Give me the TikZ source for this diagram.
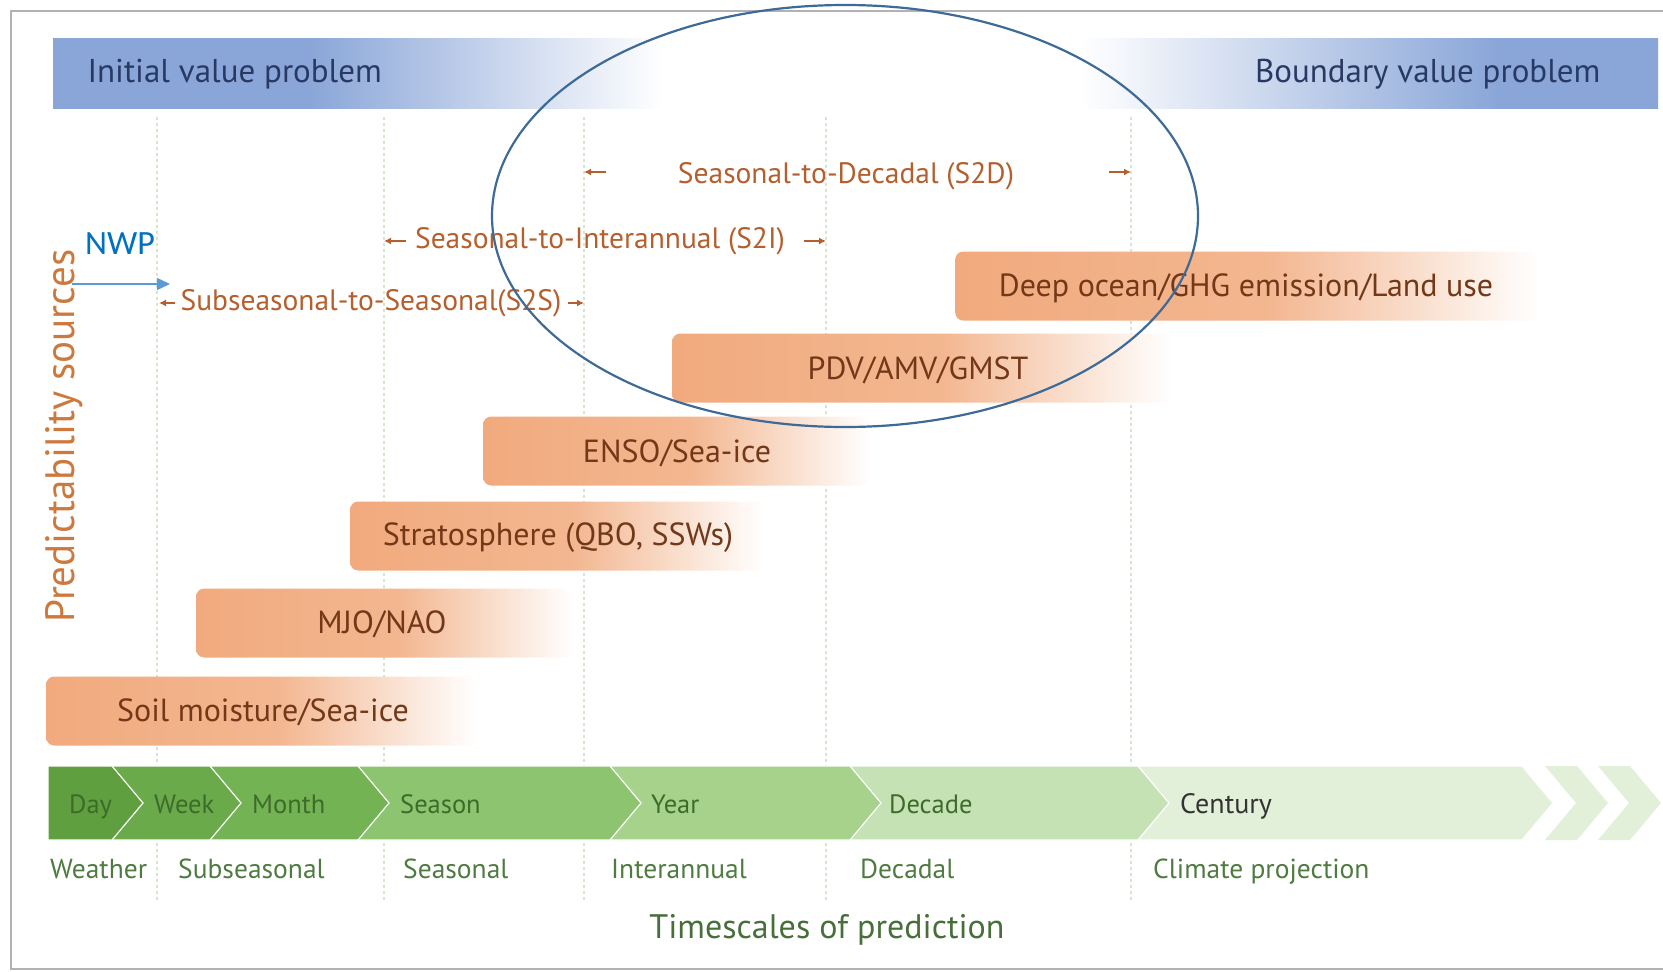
\documentclass[tikz,border=0pt]{standalone}
\usepackage{fontspec}
\setmainfont{PT Sans}
\newfontfamily\nwpfont{Carlito}
\usetikzlibrary{arrows.meta}

\definecolor{probblue}{RGB}{138,166,216}
\definecolor{probtext}{RGB}{40,58,100}
\definecolor{barorange}{RGB}{241,170,125}
\definecolor{bartext}{RGB}{115,56,24}
\definecolor{spantext}{RGB}{180,95,45}
\definecolor{srcorange}{RGB}{205,120,60}
\definecolor{nwpblue}{RGB}{0,112,192}
\definecolor{nwparrow}{RGB}{91,155,213}
\definecolor{ringblue}{RGB}{61,106,150}
\definecolor{gridgreen}{RGB}{210,232,200}
\definecolor{bandtext}{RGB}{61,107,42}
\definecolor{scaletext}{RGB}{78,123,64}
\definecolor{dayg}{RGB}{95,159,63}
\definecolor{weekg}{RGB}{106,170,74}
\definecolor{monthg}{RGB}{116,179,83}
\definecolor{seasong}{RGB}{141,196,111}
\definecolor{yearg}{RGB}{166,210,140}
\definecolor{decadeg}{RGB}{197,226,181}
\definecolor{centuryg}{RGB}{226,240,217}

\pgfdeclarehorizontalshading{barfade}{100bp}{color(0bp)=(barorange); color(25bp)=(barorange);
  color(52bp)=(barorange!85!white); color(75bp)=(white); color(100bp)=(white)}
\pgfdeclarehorizontalshading{probfade}{100bp}{color(0bp)=(probblue); color(33bp)=(probblue);
  color(44bp)=(white); color(57bp)=(white); color(70bp)=(probblue); color(100bp)=(probblue)}

\begin{document}
\begin{tikzpicture}[x=1pt,y=-1pt,
  probtxt/.style={text=probtext,font=\fontsize{33}{33}\selectfont},
  spantxt/.style={text=spantext,font=\fontsize{29.5}{29.5}\selectfont},
  spanarrow/.style={spantext,line width=1.5pt,-{Latex[length=7pt,width=7pt]}},
  srcbar/.style={shade,shading=barfade,rounded corners=8pt,minimum height=69pt,anchor=west,inner sep=0pt},
  srctxt/.style={text=bartext,font=\fontsize{32}{32}\selectfont},
  bandtxt/.style={text=bandtext,anchor=base west,inner sep=0pt,font=\fontsize{26.5}{26.5}\selectfont},
  scaletxt/.style={text=scaletext,anchor=base west,inner sep=0pt,font=\fontsize{27.5}{27.5}\selectfont},
  gridline/.style={gridgreen,line width=1.2pt,dash pattern=on 3pt off 3pt}]
\useasboundingbox (0,0) rectangle (1663,972);
\draw[gray!60,line width=2pt] (11,11) rectangle (1720,969);

\foreach \x in {157,384,584,826,1131}
  \draw[gridline] (\x,117) -- (\x,902);

\shade[shading=probfade] (53,38) rectangle (1658,108);
\node[probtxt,anchor=west] (ivp) at (84,74) {Initial value problem};
\node[probtxt,anchor=east] (bvp) at (1604,74) {Boundary value problem};

\node[spantxt] (s2d) at (846,176) {Seasonal-to-Decadal (S2D)};
\node[spantxt] (s2i) at (600,241) {Seasonal-to-Interannual (S2I)};
\node[spantxt] (s2s) at (371,303) {Subseasonal-to-Seasonal(S2S)};
\coordinate (s2dl) at (584,172); \coordinate (s2dr) at (1131,172);
\coordinate (s2il) at (384,241); \coordinate (s2ir) at (826,241);
\coordinate (s2sl) at (159,303); \coordinate (s2sr) at (584,303);
\draw[spanarrow] ([xshift=22pt]s2dl) -- (s2dl);
\draw[spanarrow] ([xshift=-22pt]s2dr) -- (s2dr);
\draw[spanarrow] ([xshift=22pt]s2il) -- (s2il);
\draw[spanarrow] ([xshift=-22pt]s2ir) -- (s2ir);
\draw[spanarrow] ([xshift=16pt]s2sl) -- (s2sl);
\draw[spanarrow] ([xshift=-16pt]s2sr) -- (s2sr);

\node[srcbar,minimum width=583pt] (deepbar) at (955,286) {};
\node[srctxt] (deep) at (1246,288) {Deep ocean/GHG emission/Land use};
\node[srcbar,minimum width=500pt] (pdvbar) at (672,368) {};
\node[srctxt] (pdv) at (918,370) {PDV/AMV/GMST};
\node[srcbar,minimum width=387pt] (ensobar) at (483,451) {};
\node[srctxt] (enso) at (677,453) {ENSO/Sea-ice};
\node[srcbar,minimum width=414pt] (stratbar) at (350,536) {};
\node[srctxt] (strat) at (558,538) {Stratosphere (QBO, SSWs)};
\node[srcbar,minimum width=377pt] (mjobar) at (196,623) {};
\node[srctxt] (mjo) at (382,624) {MJO/NAO};
\node[srcbar,minimum width=431pt] (soilbar) at (46,711) {};
\node[srctxt] (soil) at (263,712) {Soil moisture/Sea-ice};

\node[text=srcorange,rotate=90,font=\fontsize{41}{41}\selectfont] (src) at (64,436) {Predictability sources};
\node[text=nwpblue,font=\nwpfont\fontsize{34}{34}\selectfont] (nwp) at (120,244) {NWP};
\coordinate (nwptail) at (72,284); \coordinate (nwptip) at (170,284);
\draw[nwparrow,line width=1.3pt,-{Triangle[length=13pt,width=12pt]}] (nwptail) -- (nwptip);

\foreach \a/\b/\c in {1138/1522/centuryg,850/1138/decadeg,610/850/yearg,358/610/seasong,
    210/358/monthg,112/210/weekg,48/112/dayg}
  \draw[fill=\c,draw=white,line width=1.2pt] (\a,766) -- (\b,766) -- (\b+31,803) -- (\b,840) -- (\a,840) -- cycle;
\foreach \a in {1545,1598}
  \fill[centuryg] (\a,766) -- (\a+32,766) -- (\a+63,803) -- (\a+32,840) -- (\a,840) -- (\a+31,803) -- cycle;

\node[bandtxt] (day) at (69,813) {Day};
\node[bandtxt] (week) at (154,813) {Week};
\node[bandtxt] (month) at (252,813) {Month};
\node[bandtxt] (season) at (400,813) {Season};
\node[bandtxt] (year) at (651,813) {Year};
\node[bandtxt] (decade) at (889,813) {Decade};
\node[bandtxt,text=black!80,font=\fontsize{28}{28}\selectfont] (century) at (1180,813) {Century};

\node[scaletxt] (weather) at (50,878) {Weather};
\node[scaletxt] (subseas) at (178,878) {Subseasonal};
\node[scaletxt] (seas) at (403,878) {Seasonal};
\node[scaletxt] (inter) at (611,878) {Interannual};
\node[scaletxt] (decadal) at (860,878) {Decadal};
\node[scaletxt] (climate) at (1153,878) {Climate projection};
\node[text=scaletext!90!black,font=\fontsize{34}{34}\selectfont] (title) at (827,930) {Timescales of prediction};

\draw[ringblue,line width=2.2pt] (845,216) ellipse [x radius=353,y radius=211];
\end{tikzpicture}
\end{document}
